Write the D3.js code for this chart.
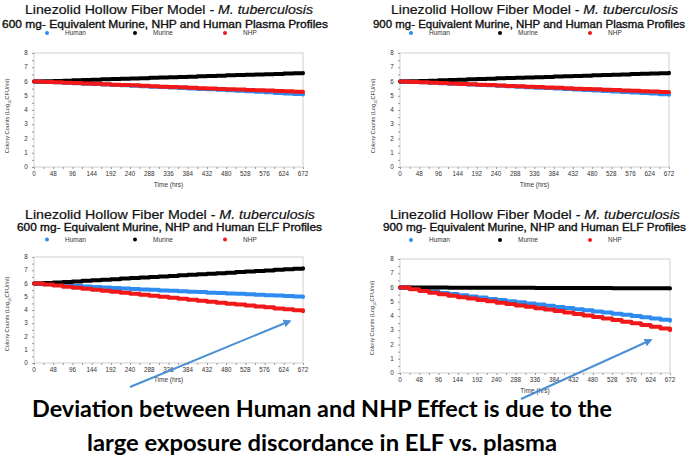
<!DOCTYPE html>
<html><head><meta charset="utf-8">
<script src="https://cdn.jsdelivr.net/npm/d3@7"></script>
<style>body{margin:0;background:#fff}svg{display:block}</style>
</head><body><svg id="c" width="696" height="466"></svg>
<script>
const hours=[0,24,48,72,96,120,144,168,192,216,240,264,288,312,336,360,384,408,432,456,480,504,528,552,576,600,624,648,672];
const xTickLabels=[0,48,96,144,192,240,288,336,384,432,480,528,576,624,672];
const yTickLabels=[0,1,2,3,4,5,6,7,8];
const seriesNames=["Human","Murine","NHP"];
const panelTitles=["Linezolid Hollow Fiber Model - ","Linezolid Hollow Fiber Model - ","Linezolid Hollow Fiber Model - ","Linezolid Hollow Fiber Model - "];
const panelSubtitles=["600 mg- Equivalent Murine, NHP and Human Plasma Profiles","900 mg- Equivalent Murine, NHP and Human Plasma Profiles","600 mg- Equivalent Murine, NHP and Human ELF Profiles","900 mg- Equivalent Murine, NHP and Human ELF Profiles"];
const bottomLines=["Deviation between Human and NHP Effect is due to the","large exposure discordance in ELF vs. plasma"];

const p1Human=[6.00,5.97,5.94,5.91,5.88,5.85,5.82,5.79,5.76,5.73,5.70,5.67,5.64,5.61,5.58,5.55,5.51,5.48,5.45,5.42,5.38,5.35,5.31,5.28,5.24,5.20,5.16,5.12,5.08];
const p1Murine=[6.00,6.02,6.04,6.06,6.08,6.11,6.13,6.15,6.17,6.19,6.21,6.23,6.26,6.28,6.30,6.32,6.34,6.36,6.38,6.41,6.43,6.45,6.47,6.49,6.51,6.53,6.56,6.58,6.60];
const p1NHP=[6.00,5.97,5.95,5.92,5.89,5.86,5.84,5.81,5.78,5.75,5.73,5.70,5.67,5.64,5.61,5.59,5.56,5.53,5.51,5.48,5.46,5.43,5.41,5.38,5.36,5.33,5.31,5.28,5.26];

const p2Human=[6.00,5.97,5.94,5.91,5.88,5.85,5.82,5.79,5.76,5.73,5.70,5.67,5.64,5.60,5.57,5.54,5.51,5.47,5.44,5.41,5.37,5.34,5.30,5.27,5.23,5.19,5.15,5.11,5.07];
const p2Murine=[6.00,6.02,6.04,6.06,6.09,6.11,6.13,6.15,6.17,6.19,6.22,6.24,6.26,6.28,6.30,6.32,6.35,6.37,6.39,6.41,6.43,6.45,6.48,6.50,6.52,6.54,6.56,6.58,6.61];
const p2NHP=[6.00,5.97,5.94,5.92,5.89,5.86,5.83,5.80,5.78,5.75,5.72,5.69,5.67,5.64,5.61,5.58,5.56,5.53,5.50,5.48,5.45,5.42,5.40,5.37,5.35,5.32,5.30,5.27,5.25];

const p3Human=[6.00,5.95,5.91,5.86,5.82,5.78,5.74,5.70,5.66,5.62,5.59,5.55,5.52,5.48,5.45,5.41,5.38,5.35,5.31,5.28,5.25,5.22,5.18,5.15,5.12,5.09,5.06,5.02,4.98];
const p3Murine=[6.00,6.04,6.08,6.12,6.16,6.21,6.25,6.29,6.33,6.37,6.41,6.45,6.49,6.53,6.57,6.62,6.66,6.70,6.74,6.78,6.82,6.86,6.90,6.94,6.98,7.03,7.07,7.11,7.15];
const p3NHP=[6.00,5.92,5.84,5.76,5.68,5.60,5.53,5.45,5.37,5.30,5.22,5.15,5.07,5.00,4.92,4.85,4.77,4.70,4.63,4.55,4.48,4.41,4.34,4.27,4.20,4.12,4.05,3.98,3.91];

const p4Human=[6.00,5.91,5.81,5.72,5.62,5.54,5.45,5.37,5.29,5.20,5.12,5.04,4.96,4.88,4.80,4.72,4.64,4.56,4.48,4.40,4.32,4.24,4.16,4.08,4.00,3.91,3.83,3.74,3.66];
const p4Murine=[6.00,6.00,6.00,6.00,6.00,5.99,5.99,5.99,5.99,5.99,5.98,5.98,5.98,5.98,5.97,5.97,5.97,5.97,5.96,5.96,5.96,5.96,5.95,5.95,5.95,5.94,5.94,5.94,5.93];
const p4NHP=[6.00,5.88,5.76,5.64,5.52,5.42,5.32,5.22,5.12,5.03,4.93,4.84,4.74,4.65,4.55,4.45,4.35,4.25,4.14,4.04,3.93,3.83,3.72,3.60,3.49,3.37,3.25,3.12,3.00];

const panelData=[[p1Human,p1Murine,p1NHP],[p2Human,p2Murine,p2NHP],[p3Human,p3Murine,p3NHP],[p4Human,p4Murine,p4NHP]];

const colors={Human:"#2e8cf0",Murine:"#000000",NHP:"#f01818"};
const FONT="'Liberation Sans', Arial, sans-serif";
const layout=[
 {x0:34,x1:303,yTop:53,yBot:167,tX:169,tY:14,tW:288,tF:12.5,sX:165,sY:27.5,sW:326,sF:10.5,legY:33,legDx:[13,101,191],yTitleX:7,yTitleY:116,tickY:175.5,timeY:186.5},
 {x0:400,x1:669,yTop:53,yBot:167,tX:534.5,tY:14,tW:287,tF:12.5,sX:529,sY:27.5,sW:312,sF:10.5,legY:33,legDx:[11,100,190],yTitleX:373,yTitleY:116,tickY:175.5,timeY:186.5},
 {x0:34,x1:303,yTop:257,yBot:363,tX:170,tY:218.5,tW:290,tF:12,sX:169.5,sY:231,sW:305,sF:10,legY:239.5,legDx:[13,101,191],yTitleX:7,yTitleY:314,tickY:371.5,timeY:381.5},
 {x0:400,x1:670,yTop:259,yBot:373,tX:535,tY:218.5,tW:290,tF:12,sX:534.5,sY:231,sW:303,sF:10,legY:240,legDx:[11,100,190],yTitleX:372,yTitleY:318,tickY:381.5,timeY:392.5}
];
const arrows=[{x1:130,y1:387,x2:290,y2:321},{x1:521,y1:399,x2:651,y2:340}];

const svg=d3.select("#c");
svg.append("defs").append("marker").attr("id","ah").attr("viewBox","0 0 10 10").attr("refX",8).attr("refY",5)
  .attr("markerWidth",4).attr("markerHeight",4).attr("orient","auto")
  .append("path").attr("d","M0,0L10,5L0,10z").attr("fill","#4a8fd6");

layout.forEach((L,i)=>{
  const g=svg.append("g");
  const x=d3.scaleLinear().domain([0,672]).range([L.x0,L.x1]);
  const y=d3.scaleLinear().domain([0,8]).range([L.yBot,L.yTop]);
  const t=g.append("text").attr("x",L.tX).attr("y",L.tY).attr("text-anchor","middle")
    .attr("font-family",FONT).attr("font-size",L.tF).attr("fill","#111").attr("stroke","#111").attr("stroke-width",0.2)
    .attr("textLength",L.tW).attr("lengthAdjust","spacingAndGlyphs");
  t.append("tspan").text(panelTitles[i]);
  t.append("tspan").attr("font-style","italic").text("M. tuberculosis");
  g.append("text").attr("x",L.sX).attr("y",L.sY).attr("text-anchor","middle")
    .attr("font-family",FONT).attr("font-size",L.sF).attr("fill","#111").attr("stroke","#111").attr("stroke-width",0.35)
    .attr("textLength",L.sW).attr("lengthAdjust","spacingAndGlyphs").text(panelSubtitles[i]);
  seriesNames.forEach((n,k)=>{
    g.append("circle").attr("cx",L.x0+L.legDx[k]).attr("cy",L.legY).attr("r",2).attr("fill",colors[n]);
    g.append("text").attr("x",L.x0+L.legDx[k]+18).attr("y",L.legY+2.2).attr("font-family",FONT)
      .attr("font-size",6.5).attr("fill","#333").text(n);
  });
  g.append("rect").attr("x",L.x0).attr("y",L.yTop).attr("width",L.x1-L.x0).attr("height",L.yBot-L.yTop)
    .attr("fill","none").attr("stroke","#cfcfcf").attr("stroke-width",1);
  const xa=g.append("g").attr("transform",`translate(0,${L.yBot})`)
    .call(d3.axisBottom(x).tickValues(hours).tickSize(2).tickFormat(""));
  xa.select(".domain").remove();
  xa.selectAll("line").attr("stroke","#999");
  const ya=g.append("g").attr("transform",`translate(${L.x0},0)`)
    .call(d3.axisLeft(y).tickValues(d3.range(0,8.01,0.5)).tickSize(2).tickFormat(""));
  ya.select(".domain").remove();
  ya.selectAll("line").attr("stroke","#999");
  xTickLabels.forEach(v=>{
    g.append("text").attr("x",x(v)).attr("y",L.tickY).attr("text-anchor","middle").attr("font-family",FONT)
      .attr("font-size",6.3).attr("fill","#333").text(v);
  });
  yTickLabels.forEach(v=>{
    g.append("text").attr("x",L.x0-8).attr("y",y(v)+2.2).attr("text-anchor","middle").attr("font-family",FONT)
      .attr("font-size",6.3).attr("fill","#333").text(v);
  });
  g.append("text").attr("x",(L.x0+L.x1)/2).attr("y",L.timeY).attr("text-anchor","middle").attr("font-family",FONT)
    .attr("font-size",6.5).attr("fill","#333").text("Time (hrs)");
  const yt=g.append("text").attr("transform",`translate(${L.yTitleX+2},${L.yTitleY}) rotate(-90)`)
    .attr("text-anchor","middle").attr("font-family",FONT).attr("font-size",5.6).attr("fill","#333");
  yt.append("tspan").text("Colony Counts (Log");
  yt.append("tspan").attr("font-size",4).attr("dy",1.5).text("10");
  yt.append("tspan").attr("dy",-1.5).text("CFU/ml)");
  const line=d3.line().x((d,j)=>x(hours[j])).y(d=>y(d)).curve(d3.curveStepAfter);
  panelData[i].forEach((vals,k)=>{
    g.append("path").attr("d",line(vals)).attr("fill","none").attr("stroke",colors[seriesNames[k]])
      .attr("stroke-width",4).attr("stroke-linejoin","round").attr("stroke-linecap","round");
  });
});

arrows.forEach(a=>{
  svg.append("line").attr("x1",a.x1).attr("y1",a.y1).attr("x2",a.x2).attr("y2",a.y2)
    .attr("stroke","#4a8fd6").attr("stroke-width",2).attr("marker-end","url(#ah)");
});

bottomLines.forEach((s,i)=>{
  svg.append("text").attr("x",322).attr("y",[417,451][i]).attr("text-anchor","middle")
    .attr("font-family","Lato, 'Open Sans', sans-serif").attr("font-weight","bold").attr("font-size",23)
    .attr("fill","#000").attr("textLength",[580,470][i]).attr("lengthAdjust","spacingAndGlyphs").text(s);
});
</script></body></html>
